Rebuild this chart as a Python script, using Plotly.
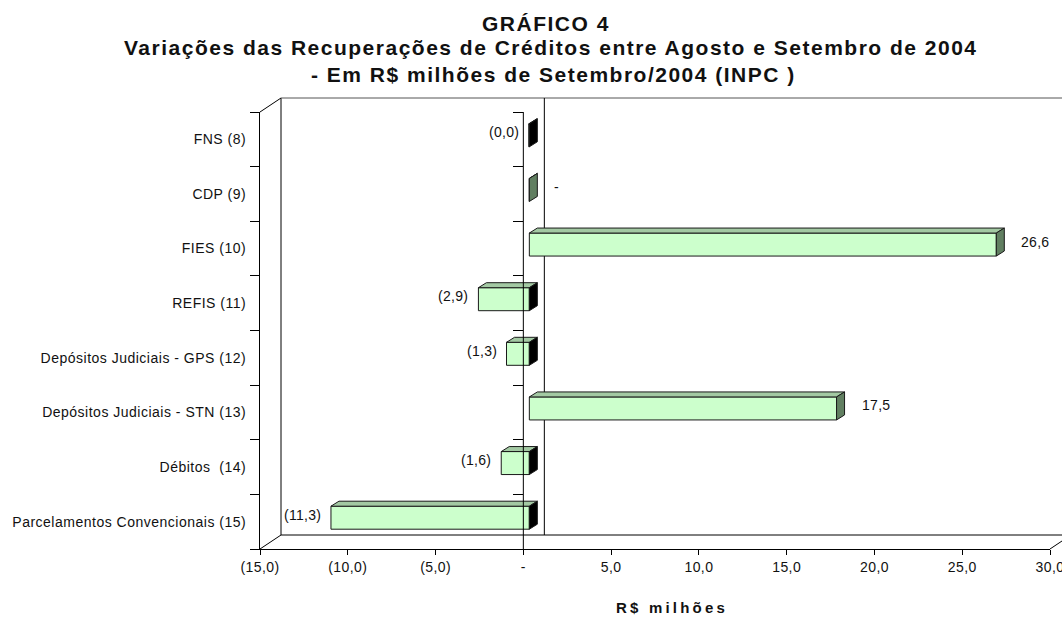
import plotly.graph_objects as go

# ---------------- data ----------------
categories = [
    "FNS (8)",
    "CDP (9)",
    "FIES (10)",
    "REFIS (11)",
    "Depósitos Judiciais - GPS (12)",
    "Depósitos Judiciais - STN (13)",
    "Débitos\u00a0 (14)",
    "Parcelamentos Convencionais (15)",
]
values = [-0.03, 0.0, 26.6, -2.9, -1.3, 17.5, -1.6, -11.3]
x_tick_values = [-15, -10, -5, 0, 5, 10, 15, 20, 25, 30]
title_lines = [
    "GRÁFICO 4",
    "Variações das Recuperações de Créditos entre Agosto e Setembro de 2004",
    "- Em R$ milhões de Setembro/2004 (INPC )",
]
axis_title = "R$ milhões"


def fmt(v):
    """Accounting style: (x,x) for negatives, '-' for zero, comma decimals."""
    r = round(v, 1)
    if v < 0:
        return "(" + f"{abs(r):.1f}".replace(".", ",") + ")"
    if r == 0:
        return "-"
    return f"{r:.1f}".replace(".", ",")


def spaced(text, px):
    return f'<span style="letter-spacing:{px}px">{text}</span>'


# ---------------- 3-D box geometry (pixels) ----------------
W, H = 1062, 617
FRONT_L, FRONT_R, FRONT_T, FRONT_B = 260, 1050, 112, 549
WALL_DX, WALL_DY = 21, -14      # back wall offset
BAR_DX, BAR_DY = 6, -4          # plane of the bars' front faces
SIDE_DX, SIDE_DY = 8, -5        # bar depth
BAR_THICK = 23

FONT = "Liberation Sans, Arial, sans-serif"


def px(p):
    return p / W


def py(p):
    return 1 - p / H


n = len(categories)
pos = list(range(n))
bounds = [p - 0.5 for p in pos] + [n - 0.5]
x_range = [x_tick_values[0], x_tick_values[-1]]
y_range = [n - 0.5, -0.5]
x_scale = (FRONT_R - FRONT_L) / (x_range[1] - x_range[0])
y_scale = (FRONT_B - FRONT_T) / n
bar_w = BAR_THICK / y_scale
ddx = SIDE_DX / x_scale
ddy = SIDE_DY / y_scale

fig = go.Figure()

# front faces of the bars
fig.add_trace(go.Bar(
    x=values, y=pos, orientation="h", width=bar_w,
    marker=dict(color="#CCFFCC", line=dict(color="#1a1a1a", width=1)),
    xaxis="x3", yaxis="y5", hoverinfo="skip", showlegend=False,
))

# top faces and end faces of the bars
top_x, top_y = [], []
pos_end_x, pos_end_y = [], []
neg_end_x, neg_end_y = [], []
for p, v in zip(pos, values):
    lo, hi = min(v, 0), max(v, 0)
    yt, yb = p - bar_w / 2, p + bar_w / 2
    top_x += [lo, hi, hi + ddx, lo + ddx, lo, None]
    top_y += [yt, yt, yt + ddy, yt + ddy, yt, None]
    ex = [hi, hi, hi + ddx, hi + ddx, hi, None]
    ey = [yt, yb, yb + ddy, yt + ddy, yt, None]
    if v < 0:
        neg_end_x += ex
        neg_end_y += ey
    else:
        pos_end_x += ex
        pos_end_y += ey

for xs, ys, col in [(top_x, top_y, "#A3C9A3"),
                    (pos_end_x, pos_end_y, "#617F61"),
                    (neg_end_x, neg_end_y, "#000000")]:
    fig.add_trace(go.Scatter(
        x=xs, y=ys, mode="lines", fill="toself", fillcolor=col,
        line=dict(color="#1a1a1a", width=1),
        xaxis="x3", yaxis="y5", hoverinfo="skip", showlegend=False,
    ))

# placeholders so the front, overlay and back-wall axes all exist
for xa, ya in [("x", "y"), ("x", "y2"), ("x", "y3"), ("x2", "y4")]:
    fig.add_trace(go.Scatter(x=[None], y=[None], xaxis=xa, yaxis=ya,
                             mode="markers", hoverinfo="skip",
                             showlegend=False))

# value labels
annotations = []
for p, v in zip(pos, values):
    neg = v < 0
    annotations.append(dict(
        x=v, y=p, xref="x3", yref="y5", text=spaced(fmt(v), 0.3),
        showarrow=False, xanchor="right" if neg else "left", yanchor="middle",
        xshift=-8 if neg else SIDE_DX + 15, yshift=3,
        font=dict(size=14, color="#111111", family=FONT),
    ))

# titles
for txt, xc, yc in zip(title_lines, [546, 551, 553], [24, 47.5, 74.5]):
    annotations.append(dict(
        x=px(xc), y=py(yc), xref="paper", yref="paper",
        text="<b>" + spaced(txt, 1.5) + "</b>", showarrow=False,
        xanchor="center", yanchor="middle",
        font=dict(size=21, color="#111111", family=FONT),
    ))
annotations.append(dict(
    x=px(672), y=py(607), xref="paper", yref="paper",
    text="<b>" + spaced(axis_title, 3.2) + "</b>", showarrow=False,
    xanchor="center", yanchor="middle",
    font=dict(size=15, color="#111111", family=FONT),
))

# wall / floor edges of the 3-D box
bl, bt, bb, br = FRONT_L + WALL_DX, FRONT_T + WALL_DY, FRONT_B + WALL_DY, FRONT_R + WALL_DX
edges = [
    ((FRONT_L, FRONT_T), (bl, bt), "#000000"),
    ((FRONT_L, FRONT_B), (bl, bb), "#000000"),
    ((FRONT_R, FRONT_B), (br, bb), "#000000"),
    ((bl, bt), (bl, bb), "#000000"),
    ((bl, bb), (br, bb), "#000000"),
    ((bl, bt), (br, bt), "#555555"),
]
shapes = []
for (x0, y0), (x1, y1), col in edges:
    shapes.append(dict(type="line", xref="paper", yref="paper",
                       x0=px(x0), y0=py(y0), x1=px(x1), y1=py(y1),
                       line=dict(color=col, width=1), layer="below"))
# zero line on the back wall (behind the bars)
shapes.append(dict(type="line", xref="x2", yref="paper", x0=0, x1=0,
                   y0=py(bb), y1=py(bt), line=dict(color="#000000", width=1),
                   layer="below"))
# zero line on the front plane (over the bars)
shapes.append(dict(type="line", xref="x", yref="paper", x0=0, x1=0,
                   y0=py(FRONT_B), y1=py(FRONT_T),
                   line=dict(color="#000000", width=1), layer="above"))

zero_pos = px(FRONT_L) + (0 - x_range[0]) * x_scale / W
back_x_max = x_range[0] + (W - bl) / x_scale

boundary_ticks = dict(
    overlaying="y", anchor="free", range=y_range, tickvals=bounds,
    ticks="outside", ticklen=10, tickcolor="#000000", tickwidth=1,
    showticklabels=False, showline=False, showgrid=False, zeroline=False,
    automargin=False,
)

fig.update_layout(
    width=W, height=H,
    margin=dict(l=0, r=0, t=0, b=0, autoexpand=False),
    paper_bgcolor="white", plot_bgcolor="rgba(0,0,0,0)",
    showlegend=False,
    font=dict(family=FONT, size=14, color="#111111"),
    xaxis=dict(
        domain=[px(FRONT_L), px(FRONT_R)], range=x_range, anchor="y",
        showline=True, linecolor="#000000", linewidth=1,
        ticks="outside", ticklen=5, tickcolor="#000000",
        tickvals=x_tick_values,
        ticktext=[spaced(fmt(v), 0.4) for v in x_tick_values],
        ticklabeloverflow="allow",
        showgrid=False, zeroline=False, automargin=False,
    ),
    yaxis=dict(
        domain=[py(FRONT_B), py(FRONT_T)], range=y_range, anchor="x",
        showline=True, linecolor="#000000", linewidth=1,
        ticks="outside", ticklen=10, tickcolor="rgba(0,0,0,0)",
        tickvals=pos, ticktext=[spaced(c, 0.5) for c in categories],
        ticklabeloverflow="allow",
        showgrid=False, zeroline=False, automargin=False,
    ),
    yaxis2=dict(boundary_ticks, position=px(FRONT_L)),
    yaxis3=dict(boundary_ticks, position=zero_pos),
    xaxis2=dict(domain=[px(bl), 1], range=[x_range[0], back_x_max],
                anchor="y4", visible=False, automargin=False),
    yaxis4=dict(domain=[py(bb), py(bt)], range=[0, 1], anchor="x2",
                visible=False, automargin=False),
    xaxis3=dict(domain=[px(FRONT_L + BAR_DX), px(FRONT_R + BAR_DX)],
                range=x_range, anchor="y5", visible=False, automargin=False),
    yaxis5=dict(domain=[py(FRONT_B + BAR_DY), py(FRONT_T + BAR_DY)],
                range=y_range, anchor="x3", visible=False, automargin=False),
    annotations=annotations,
    shapes=shapes,
)

fig.write_html("out.html")
